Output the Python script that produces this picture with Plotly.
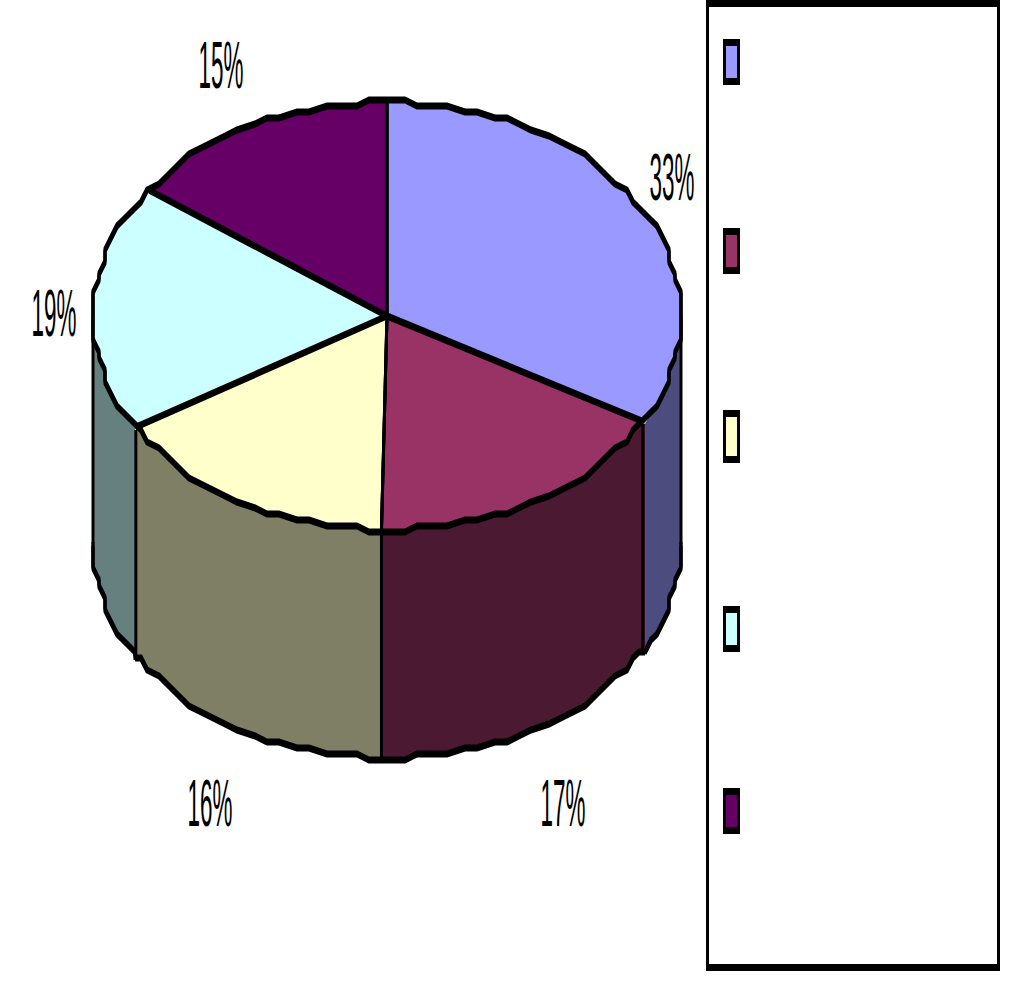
import numpy as np
import plotly.graph_objects as go

# --- data ---
categories = ["A", "B", "C", "D", "E"]
values = [33.2, 17.1, 16.0, 18.7, 15.0]
top_colors = ["#9999FF", "#993366", "#FFFFCC", "#CCFFFF", "#660066"]

# --- layout constants ---
W, H = 1014, 984
CX, CY, RX, RY, DEPTH = 387, 316, 294, 214, 228
SNAP_X, SNAP_Y, STEP = 6, 6, 3.0
OUT_WIDTH, OUT_SHIFTS = 3, (-2, 0, 2)
LABEL_X = [672, 563, 210, 54, 221]
LABEL_Y = [177, 803, 803, 313, 65]
LABEL_SIZE = 66
LABEL_SQUEEZE = 0.34
SWATCH_TOP = [39, 228, 410, 606, 788]
SWATCH_HEIGHT = [46, 46, 53, 46, 46]


def shade(hex_color):
    r, g, b = (int(hex_color[i:i + 2], 16) for i in (1, 3, 5))
    return f"rgb({r // 2},{g // 2},{b // 2})"


def rim(deg, snap=True):
    t = np.radians(np.asarray(deg, dtype=float))
    dx = RX * np.sin(t)
    dy = -RY * np.cos(t)
    if snap:
        dx = np.round(dx / SNAP_X) * SNAP_X
        dy = np.round(dy / SNAP_Y) * SNAP_Y
    return CX + dx, CY + dy


def arc(a, b):
    grid = np.arange(np.ceil(a / STEP) * STEP, b, STEP)
    return np.concatenate([[a], grid, [b]])


total = sum(values)
edges = np.concatenate([[0], np.cumsum(values) / total * 360])
fig = go.Figure()


def add_line(x, y, color="black", width=OUT_WIDTH, shifts=OUT_SHIFTS):
    for dy in shifts:
        fig.add_trace(go.Scatter(x=x, y=np.asarray(y) + dy, mode="lines",
                                 line=dict(color=color, width=width, simplify=False),
                                 hoverinfo="skip", showlegend=False))


# side wall (only the front half of the drum is visible)
for i, name in enumerate(categories):
    a, b = max(edges[i], 90), min(edges[i + 1], 270)
    if a >= b:
        continue
    th = arc(a, b)
    x, y = rim(th)
    fig.add_trace(go.Scatter(
        x=np.concatenate([x, x[::-1]]),
        y=np.concatenate([y, y[::-1] + DEPTH]),
        mode="lines", fill="toself", fillcolor=shade(top_colors[i]),
        line=dict(width=0), name=name, hoverinfo="skip", showlegend=False))
    add_line(x, y + DEPTH)

# vertical edges of the wall
for e in list(edges[1:4]) + [90, 270]:
    x, _ = rim([e], snap=False)
    xs, ys = rim([e])
    ux = xs[0] if e in (90, 270) else x[0]
    add_line([ux, ux], [ys[0], ys[0] + DEPTH], shifts=(0,))

# top face
for i, name in enumerate(categories):
    th = arc(edges[i], edges[i + 1])
    x, y = rim(th)
    fig.add_trace(go.Scatter(
        x=np.concatenate([[CX], x, [CX]]),
        y=np.concatenate([[CY], y, [CY]]),
        mode="lines", fill="toself", fillcolor=top_colors[i],
        line=dict(width=0), name=name, hoverinfo="text",
        text=f"{name}: {values[i]:.0f}%", showlegend=False))

# outlines of the top face
x, y = rim(arc(0, 360))
add_line(x, y)
for e in edges[:-1]:
    x, y = rim([e], snap=False)
    add_line([CX, x[0]], [CY, y[0]])

# percentage labels
for v, lx, ly in zip(values, LABEL_X, LABEL_Y):
    fig.add_annotation(x=lx, y=ly, text=f"{round(v / total * 100)}%", showarrow=False,
                       font=dict(family="Liberation Sans", size=LABEL_SIZE, color="black"))

# legend frame and swatches (no legend text in the reference)
shapes = [
    dict(type="rect", x0=706, x1=1000, y0=0, y1=971, fillcolor="black", line_width=0),
    dict(type="rect", x0=709, x1=997, y0=7, y1=964, fillcolor="white", line_width=0),
]
for c, top, h in zip(top_colors, SWATCH_TOP, SWATCH_HEIGHT):
    shapes.append(dict(type="rect", x0=723, x1=740, y0=top, y1=top + h,
                       fillcolor="black", line_width=0))
    shapes.append(dict(type="rect", x0=726, x1=737, y0=top + 7, y1=top + h - 7,
                       fillcolor=c, line_width=0))

fig.update_layout(
    width=W, height=H, margin=dict(l=0, r=0, t=0, b=0),
    paper_bgcolor="white", plot_bgcolor="white", showlegend=False, shapes=shapes,
    xaxis=dict(range=[0, W], visible=False, fixedrange=True),
    yaxis=dict(range=[H, 0], visible=False, fixedrange=True),
)

squeeze_js = """
document.body.style.margin = '0';
var gd = document.getElementById('{plot_id}');
gd.querySelectorAll('text.annotation-text').forEach(function (t) {
  var b = t.getBBox();
  var c = b.x + b.width / 2;
  t.setAttribute('transform', 'translate(' + c + ',0) scale(%s,1) translate(' + (-c) + ',0)');
});
""" % LABEL_SQUEEZE

fig.write_html("out.html", post_script=squeeze_js, config={"displayModeBar": False})
